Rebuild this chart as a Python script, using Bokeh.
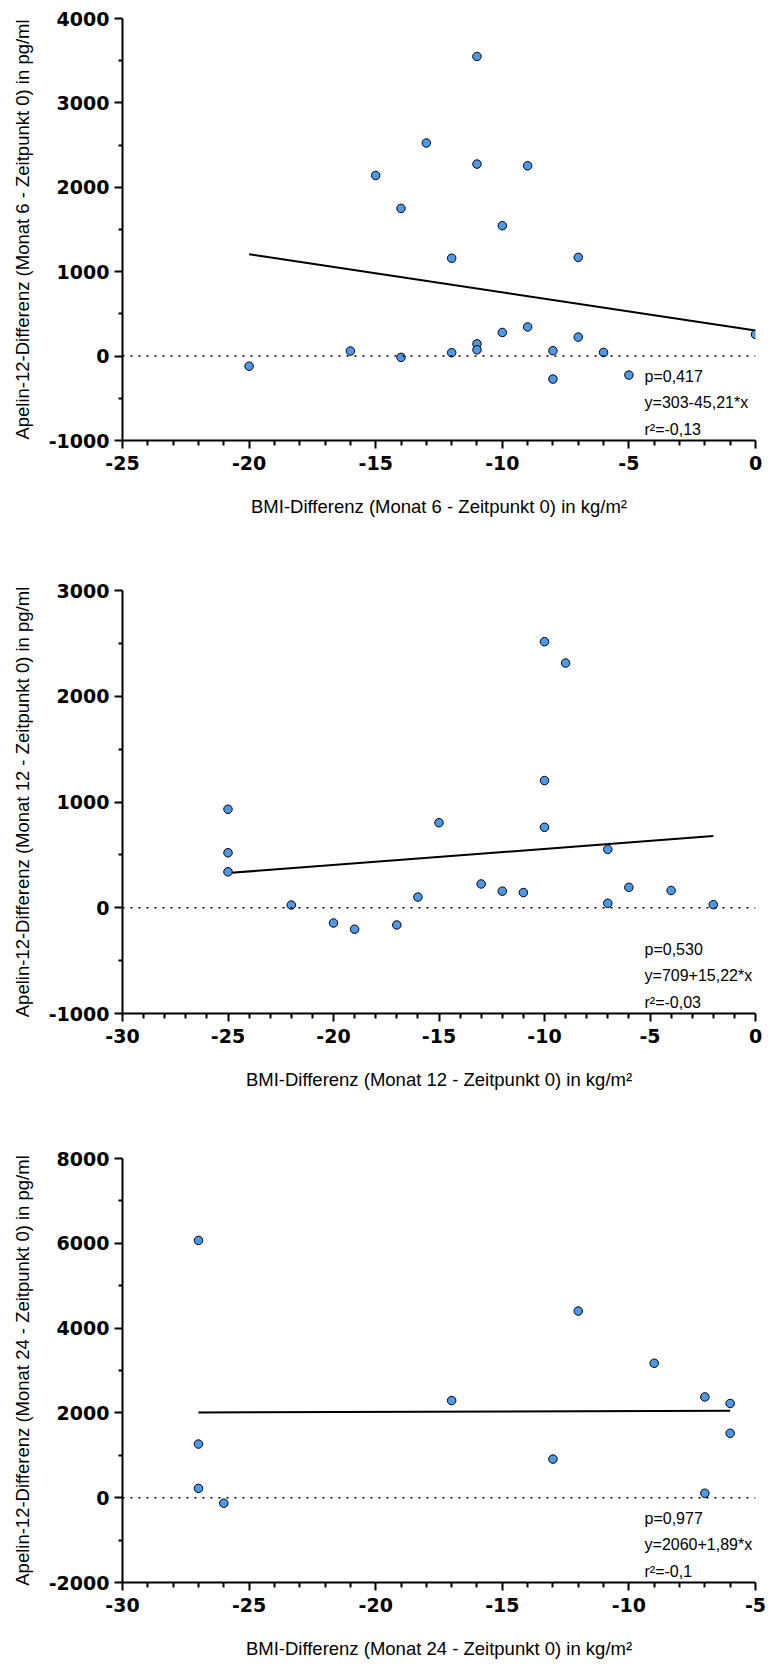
from bokeh.plotting import figure
from bokeh.layouts import column
from bokeh.models import Range1d, FixedTicker, Span, Label
from bokeh.embed import file_html
from bokeh.resources import INLINE

# ---------------- data ----------------
# Panel 1: Monat 6
bmi_m6 = [-20, -16, -15, -14, -14, -13, -12, -12, -11, -11, -11, -11,
          -10, -10, -9, -9, -8, -8, -7, -7, -6, -5, 0]
apelin_m6 = [-120, 60, 2140, 1750, -15, 2525, 1160, 40, 3550, 2275, 145, 75,
             1545, 280, 2255, 345, 64, -272, 1170, 225, 44, -225, 257]
fit_m6 = (303, -45.21)
stats_m6 = ["p=0,417", "y=303-45,21*x", "r\u00b2=-0,13"]
xticks_m6 = [-25, -20, -15, -10, -5, 0]
yticks_m6 = [-1000, 0, 1000, 2000, 3000, 4000]

# Panel 2: Monat 12
bmi_m12 = [-25, -25, -25, -22, -20, -19, -17, -16, -15, -13, -12, -11,
           -10, -10, -10, -9, -7, -7, -6, -4, -2]
apelin_m12 = [931, 520, 340, 26, -144, -203, -163, 101, 804, 225, 157, 144,
              2516, 1203, 761, 2314, 552, 42, 193, 163, 29]
fit_m12 = (709, 15.22)
stats_m12 = ["p=0,530", "y=709+15,22*x", "r\u00b2=-0,03"]
xticks_m12 = [-30, -25, -20, -15, -10, -5, 0]
yticks_m12 = [-1000, 0, 1000, 2000, 3000]

# Panel 3: Monat 24
bmi_m24 = [-27, -27, -27, -26, -17, -13, -12, -9, -7, -7, -6, -6]
apelin_m24 = [6068, 1265, 220, -130, 2290, 910, 4402, 3171, 2376, 105, 2222, 1519]
fit_m24 = (2060, 1.89)
stats_m24 = ["p=0,977", "y=2060+1,89*x", "r\u00b2=-0,1"]
xticks_m24 = [-30, -25, -20, -15, -10, -5]
yticks_m24 = [-2000, 0, 2000, 4000, 6000, 8000]

xlabels = ["BMI-Differenz (Monat 6 - Zeitpunkt 0) in kg/m\u00b2",
           "BMI-Differenz (Monat 12 - Zeitpunkt 0) in kg/m\u00b2",
           "BMI-Differenz (Monat 24 - Zeitpunkt 0) in kg/m\u00b2"]
ylabels = ["Apelin-12-Differenz (Monat 6 - Zeitpunkt 0) in pg/ml",
           "Apelin-12-Differenz (Monat 12 - Zeitpunkt 0) in pg/ml",
           "Apelin-12-Differenz (Monat 24 - Zeitpunkt 0) in pg/ml"]

MARKER = "#4d98e8"
FIG_W = 768
B_LEFT = 122
B_RIGHT = 13


def minor_between(ticks, n):
    out = []
    for a, b in zip(ticks[:-1], ticks[1:]):
        step = (b - a) / n
        out += [a + k * step for k in range(1, n)]
    return out


def panel(x, y, fit, stats, xticks, yticks, xlabel, ylabel, height, btop, bbot):
    xr = (xticks[0], xticks[-1])
    yr = (yticks[0], yticks[-1])
    p = figure(width=FIG_W, height=height, x_range=Range1d(*xr), y_range=Range1d(*yr),
               output_backend="svg", toolbar_location=None,
               min_border_left=B_LEFT, min_border_right=B_RIGHT,
               min_border_top=btop, min_border_bottom=bbot)
    p.xgrid.visible = False
    p.ygrid.visible = False
    p.outline_line_color = None
    p.background_fill_color = "white"
    p.border_fill_color = "white"

    p.xaxis.ticker = FixedTicker(ticks=xticks, minor_ticks=minor_between(xticks, 5))
    p.yaxis.ticker = FixedTicker(ticks=yticks, minor_ticks=minor_between(yticks, 2))
    p.xaxis.major_label_overrides = {t: str(t) for t in xticks}
    p.yaxis.major_label_overrides = {t: str(t) for t in yticks}

    for ax in (p.xaxis[0], p.yaxis[0]):
        ax.axis_line_width = 2
        ax.axis_line_color = "black"
        ax.major_tick_line_width = 2
        ax.minor_tick_line_width = 2
        ax.major_tick_line_color = "black"
        ax.minor_tick_line_color = "black"
        ax.major_tick_out = 8
        ax.major_tick_in = 0
        ax.minor_tick_out = 4
        ax.minor_tick_in = 0
        ax.major_label_text_font = "DejaVu Sans"
        ax.major_label_text_font_style = "bold"
        ax.major_label_text_font_size = "19px"
        ax.major_label_text_color = "black"
        ax.axis_label_text_font = "Liberation Sans"
        ax.axis_label_text_font_style = "normal"
        ax.axis_label_text_font_size = "18.5px"
        ax.axis_label_text_color = "black"
    p.xaxis.minor_tick_out = 5
    p.xaxis.major_label_standoff = 7
    p.xaxis.axis_label_standoff = 23
    p.yaxis.major_label_standoff = 5
    p.yaxis.axis_label_standoff = 13
    p.xaxis.axis_label = xlabel
    p.yaxis.axis_label = ylabel

    p.add_layout(Span(location=0, dimension="width", line_color="black",
                      line_width=1.5, line_dash="2 6"))

    b0, b1 = fit
    lx = [min(x), max(x)]
    ly = [b0 + b1 * v for v in lx]
    p.line(lx, ly, line_color="black", line_width=2)

    p.scatter(x, y, size=8.5, fill_color=MARKER, line_color="black", line_width=1)

    frame_h = height - btop - bbot
    tx = xr[0] + 0.8247 * (xr[1] - xr[0])
    for txt, px in zip(stats, [64.5, 38, 11.5]):
        ty = yr[0] + px * (yr[1] - yr[0]) / frame_h
        p.add_layout(Label(x=tx, y=ty, text=txt, text_font="Liberation Sans",
                           text_font_size="16px", text_color="black",
                           text_align="left", text_baseline="alphabetic"))
    return p


p1 = panel(bmi_m6, apelin_m6, fit_m6, stats_m6, xticks_m6, yticks_m6,
           xlabels[0], ylabels[0], 548, 18, 108)
p2 = panel(bmi_m12, apelin_m12, fit_m12, stats_m12, xticks_m12, yticks_m12,
           xlabels[1], ylabels[1], 560, 42, 95)
p3 = panel(bmi_m24, apelin_m24, fit_m24, stats_m24, xticks_m24, yticks_m24,
           xlabels[2], ylabels[2], 556, 50, 82)

layout = column(p1, p2, p3, spacing=0)
open("out.html", "w").write(file_html(layout, INLINE))
